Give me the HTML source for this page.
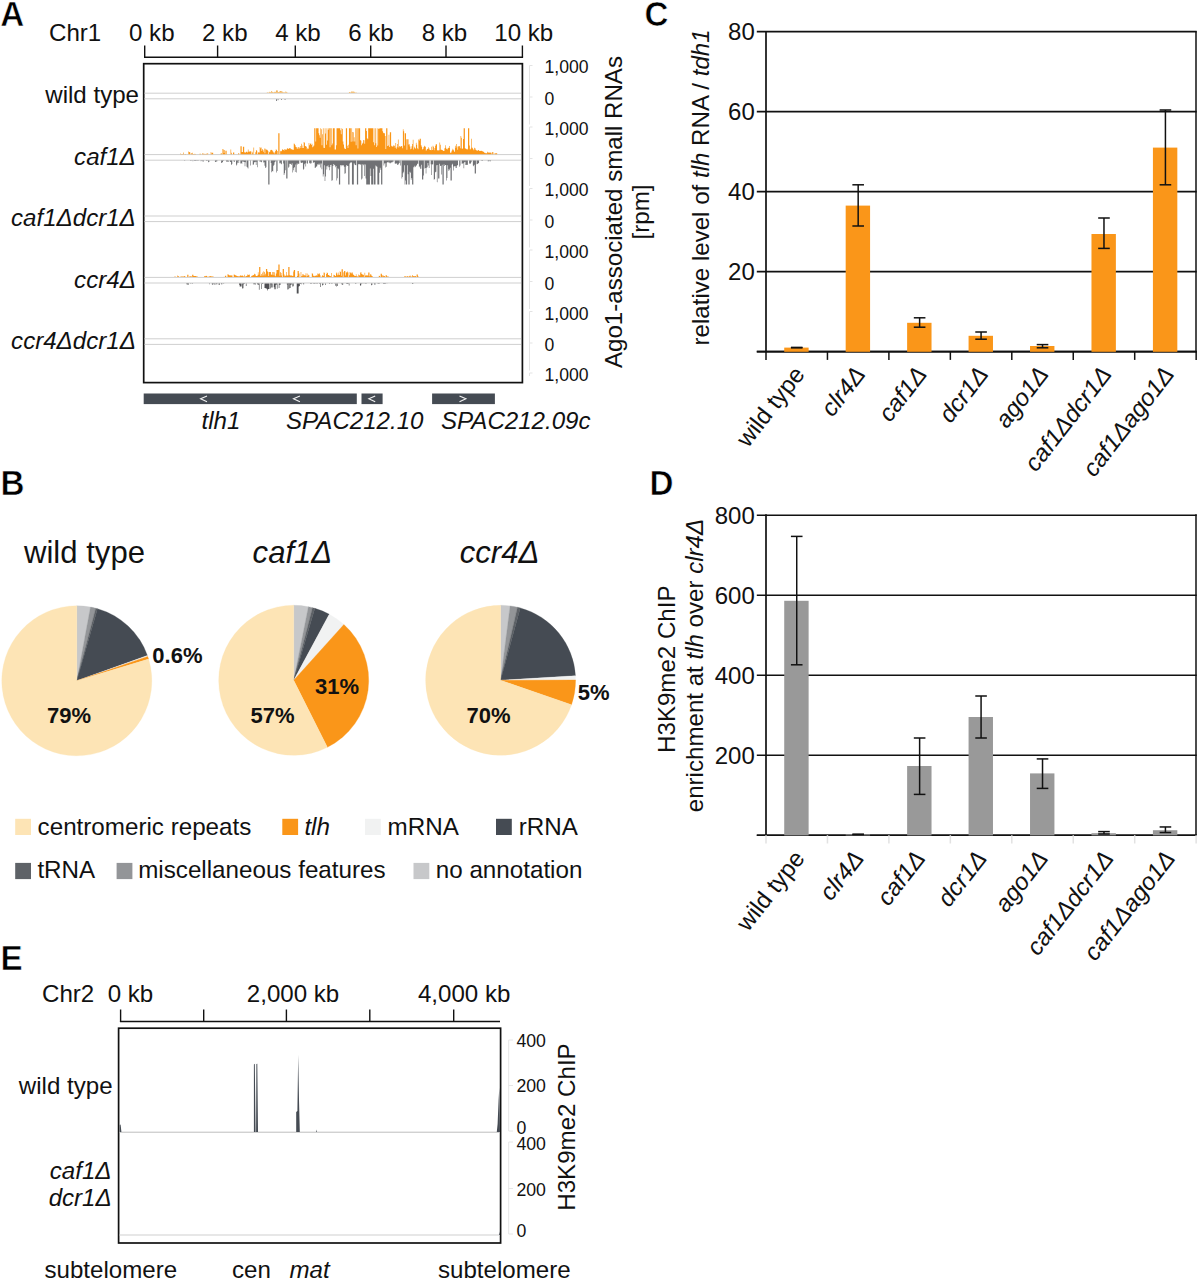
<!DOCTYPE html>
<html><head><meta charset="utf-8"><title>Figure</title>
<style>
html,body{margin:0;padding:0;background:#fff;}
body{width:1198px;height:1280px;overflow:hidden;}
svg{display:block;font-family:'Liberation Sans', sans-serif;}
</style></head><body>
<svg width="1198" height="1280" viewBox="0 0 1198 1280" font-family="Liberation Sans, sans-serif">
<rect width="1198" height="1280" fill="#ffffff"/>
<text transform="translate(0.2 25.8) scale(0.95 1)" font-size="35" font-weight="bold" fill="#000" stroke="#fff" stroke-width="0.6">A</text>
<text x="49" y="40.5" font-size="24.1" text-anchor="start" font-weight="normal" font-style="normal" fill="#111">Chr1</text>
<text x="129" y="40.5" font-size="24.1" text-anchor="start" font-weight="normal" font-style="normal" fill="#111">0 kb</text>
<text x="202" y="40.5" font-size="24.1" text-anchor="start" font-weight="normal" font-style="normal" fill="#111">2 kb</text>
<text x="275.2" y="40.5" font-size="24.1" text-anchor="start" font-weight="normal" font-style="normal" fill="#111">4 kb</text>
<text x="348.2" y="40.5" font-size="24.1" text-anchor="start" font-weight="normal" font-style="normal" fill="#111">6 kb</text>
<text x="421.7" y="40.5" font-size="24.1" text-anchor="start" font-weight="normal" font-style="normal" fill="#111">8 kb</text>
<text x="494.3" y="40.5" font-size="24.1" text-anchor="start" font-weight="normal" font-style="normal" fill="#111">10 kb</text>
<line x1="144.0" y1="57.3" x2="523.1" y2="57.3" stroke="#111" stroke-width="1.4"/>
<line x1="144.7" y1="45.5" x2="144.7" y2="57.3" stroke="#111" stroke-width="1.4"/>
<line x1="217.6" y1="45.5" x2="217.6" y2="57.3" stroke="#111" stroke-width="1.4"/>
<line x1="295.3" y1="45.5" x2="295.3" y2="57.3" stroke="#111" stroke-width="1.4"/>
<line x1="370.7" y1="45.5" x2="370.7" y2="57.3" stroke="#111" stroke-width="1.4"/>
<line x1="446.0" y1="45.5" x2="446.0" y2="57.3" stroke="#111" stroke-width="1.4"/>
<line x1="522.4" y1="45.5" x2="522.4" y2="57.3" stroke="#111" stroke-width="1.4"/>
<rect x="143.7" y="63.7" width="378.7" height="318.90000000000003" fill="none" stroke="#111" stroke-width="1.7"/>
<line x1="144.5" y1="93.2" x2="521" y2="93.2" stroke="#cfcfcf" stroke-width="1"/>
<line x1="144.5" y1="98.8" x2="521" y2="98.8" stroke="#cfcfcf" stroke-width="1"/>
<text x="139" y="102.8" font-size="24.1" text-anchor="end" font-weight="normal" font-style="normal" fill="#111">wild type</text>
<line x1="144.5" y1="154.6" x2="521" y2="154.6" stroke="#cfcfcf" stroke-width="1"/>
<line x1="144.5" y1="160.2" x2="521" y2="160.2" stroke="#cfcfcf" stroke-width="1"/>
<text x="135.8" y="164.7" font-size="24.1" text-anchor="end" font-weight="normal" font-style="italic" fill="#111">caf1Δ</text>
<line x1="144.5" y1="216.0" x2="521" y2="216.0" stroke="#cfcfcf" stroke-width="1"/>
<line x1="144.5" y1="221.6" x2="521" y2="221.6" stroke="#cfcfcf" stroke-width="1"/>
<text x="135.8" y="226.1" font-size="24.1" text-anchor="end" font-weight="normal" font-style="italic" fill="#111">caf1Δdcr1Δ</text>
<line x1="144.5" y1="277.4" x2="521" y2="277.4" stroke="#cfcfcf" stroke-width="1"/>
<line x1="144.5" y1="283.0" x2="521" y2="283.0" stroke="#cfcfcf" stroke-width="1"/>
<text x="135.8" y="287.5" font-size="24.1" text-anchor="end" font-weight="normal" font-style="italic" fill="#111">ccr4Δ</text>
<line x1="144.5" y1="338.8" x2="521" y2="338.8" stroke="#cfcfcf" stroke-width="1"/>
<line x1="144.5" y1="344.40000000000003" x2="521" y2="344.40000000000003" stroke="#cfcfcf" stroke-width="1"/>
<text x="135.8" y="348.90000000000003" font-size="24.1" text-anchor="end" font-weight="normal" font-style="italic" fill="#111">ccr4Δdcr1Δ</text>
<text x="544.5" y="72.9" font-size="17.6" text-anchor="start" font-weight="normal" font-style="normal" fill="#111">1,000</text>
<text x="544.5" y="134.60000000000002" font-size="17.6" text-anchor="start" font-weight="normal" font-style="normal" fill="#111">1,000</text>
<text x="544.5" y="196.3" font-size="17.6" text-anchor="start" font-weight="normal" font-style="normal" fill="#111">1,000</text>
<text x="544.5" y="258.0" font-size="17.6" text-anchor="start" font-weight="normal" font-style="normal" fill="#111">1,000</text>
<text x="544.5" y="319.70000000000005" font-size="17.6" text-anchor="start" font-weight="normal" font-style="normal" fill="#111">1,000</text>
<text x="544.5" y="381.4" font-size="17.6" text-anchor="start" font-weight="normal" font-style="normal" fill="#111">1,000</text>
<text x="544.5" y="104.8" font-size="17.6" text-anchor="start" font-weight="normal" font-style="normal" fill="#111">0</text>
<text x="544.5" y="166.4" font-size="17.6" text-anchor="start" font-weight="normal" font-style="normal" fill="#111">0</text>
<text x="544.5" y="228.0" font-size="17.6" text-anchor="start" font-weight="normal" font-style="normal" fill="#111">0</text>
<text x="544.5" y="289.6" font-size="17.6" text-anchor="start" font-weight="normal" font-style="normal" fill="#111">0</text>
<text x="544.5" y="351.2" font-size="17.6" text-anchor="start" font-weight="normal" font-style="normal" fill="#111">0</text>
<path d="M532.5 65.5H529.5V124.5" fill="none" stroke="#e3e3e3" stroke-width="1"/>
<path d="M529.5 97.0H532.5" fill="none" stroke="#e3e3e3" stroke-width="1"/>
<path d="M532.5 127.0H529.5V186.0" fill="none" stroke="#e3e3e3" stroke-width="1"/>
<path d="M529.5 158.5H532.5" fill="none" stroke="#e3e3e3" stroke-width="1"/>
<path d="M532.5 188.5H529.5V247.5" fill="none" stroke="#e3e3e3" stroke-width="1"/>
<path d="M529.5 220.0H532.5" fill="none" stroke="#e3e3e3" stroke-width="1"/>
<path d="M532.5 250.0H529.5V309.0" fill="none" stroke="#e3e3e3" stroke-width="1"/>
<path d="M529.5 281.5H532.5" fill="none" stroke="#e3e3e3" stroke-width="1"/>
<path d="M532.5 311.5H529.5V370.5" fill="none" stroke="#e3e3e3" stroke-width="1"/>
<path d="M529.5 343.0H532.5" fill="none" stroke="#e3e3e3" stroke-width="1"/>
<path d="M532.5 373.0H529.5V376.0" fill="none" stroke="#e3e3e3" stroke-width="1"/>
<text x="622" y="212" font-size="24.1" text-anchor="middle" font-weight="normal" font-style="normal" fill="#111" transform="rotate(-90 622 212)">Ago1-associated small RNAs</text>
<text x="649" y="212" font-size="24.1" text-anchor="middle" font-weight="normal" font-style="normal" fill="#111" transform="rotate(-90 649 212)">[rpm]</text>
<defs><filter id="sb" x="-2%" y="-10%" width="104%" height="120%"><feGaussianBlur stdDeviation="0.3"/></filter></defs>
<path d="M179.69 154.20V154.20H180.31V153.56H180.93V154.02H181.55V154.02H182.17V154.03H182.79V154.01H183.41V152.53H184.03V154.20H184.65V153.91H185.27V153.95H185.89V154.20H186.51V154.20H187.13V154.20H187.75V154.20H188.37V151.60H188.99V151.96H189.61V152.22H190.23V154.20H190.85V153.25H191.47V153.41H192.09V152.85H192.71V154.02H193.33V153.97H193.95V154.04H194.57V153.63H195.19V153.98H195.81V154.20H196.43V154.20H197.05V154.20H197.67V154.20H198.29V154.20H198.91V154.20H199.53V153.77H200.15V153.82H200.77V154.20H201.39V154.20H202.01V153.48H202.63V153.55H203.25V153.71H203.87V153.86H204.49V153.96H205.11V154.01H205.73V153.84H206.35V153.78H206.97V153.51H207.59V153.56H208.21V154.20H208.83V154.20H209.45V154.20H210.07V154.20H210.69V152.09H211.31V153.38H211.93V152.63H212.55V152.74H213.17V154.20H213.79V154.20H214.41V154.20H215.03V154.20H215.65V154.20H216.27V154.20H216.89V154.20H217.51V154.20H218.13V154.20H218.75V154.20H219.37V154.20H219.99V154.20H220.61V153.43H221.23V153.36H221.85V154.20H222.47V148.95H223.09V149.57H223.71V153.04H224.33V149.92H224.95V150.72H225.57V154.20H226.19V150.81H226.81V154.20H227.43V154.20H228.05V154.20H228.67V154.20H229.29V154.20H229.91V154.20H230.53V149.39H231.15V152.69H231.77V154.20H232.39V154.20H233.01V152.53H233.63V152.38H234.25V154.20H234.87V154.20H235.49V154.20H236.11V154.20H236.73V154.20H237.35V154.20H237.97V153.54H238.59V153.23H239.21V154.20H239.83V154.20H240.45V146.20H241.07V146.20H241.69V152.03H242.31V151.88H242.93V146.70H243.55V146.70H244.17V152.13H244.79V152.61H245.41V152.54H246.03V151.78H246.65V151.64H247.27V152.49H247.89V149.47H248.51V151.71H249.13V151.68H249.75V151.09H250.37V151.49H250.99V154.20H251.61V151.56H252.23V152.54H252.85V154.20H253.47V147.45H254.09V154.20H254.71V154.20H255.33V152.37H255.95V149.91H256.57V150.64H257.19V154.20H257.81V152.50H258.43V152.32H259.05V152.62H259.67V147.01H260.29V148.35H260.91V147.52H261.53V151.05H262.15V148.92H262.77V149.95H263.39V151.87H264.01V148.62H264.63V153.20H265.25V148.86H265.87V149.97H266.49V149.24H267.11V149.96H267.73V151.08H268.35V154.20H268.97V152.19H269.59V151.65H270.21V150.21H270.83V149.68H271.45V149.97H272.07V150.61H272.69V151.47H273.31V152.58H273.93V153.57H274.55V152.19H275.17V150.98H275.79V149.25H276.41V149.88H277.03V150.91H277.65V154.20H278.27V133.20H278.89V133.20H279.51V154.20H280.13V151.20H280.75V150.74H281.37V151.22H281.99V149.30H282.61V149.85H283.23V149.93H283.85V150.50H284.47V148.95H285.09V149.56H285.71V149.63H286.33V149.51H286.95V148.17H287.57V148.53H288.19V148.96H288.81V148.58H289.43V148.02H290.05V148.29H290.67V149.18H291.29V149.29H291.91V149.21H292.53V149.97H293.15V149.70H293.77V143.57H294.39V144.19H295.01V145.28H295.63V147.08H296.25V147.31H296.87V148.89H297.49V147.54H298.11V147.07H298.73V148.73H299.35V147.53H299.97V145.92H300.59V147.91H301.21V143.83H301.83V145.61H302.45V148.04H303.07V147.89H303.69V141.95H304.31V142.79H304.93V146.11H305.55V146.23H306.17V146.81H306.79V149.15H307.41V148.19H308.03V148.66H308.65V143.12H309.27V145.29H309.89V143.70H310.51V143.56H311.13V145.03H311.75V143.72H312.37V147.14H312.99V146.46H313.61V145.57H314.23V128.20H314.85V128.20H315.47V141.38H316.09V128.20H316.71V128.20H317.33V128.20H317.95V128.20H318.57V133.21H319.19V135.25H319.81V137.74H320.43V128.20H321.05V129.22H321.67V145.29H322.29V134.20H322.91V128.20H323.53V147.82H324.15V148.00H324.77V128.20H325.39V133.40H326.01V144.81H326.63V128.20H327.25V140.59H327.87V129.82H328.49V128.20H329.11V128.20H329.73V147.33H330.35V128.20H330.97V128.20H331.59V145.21H332.21V143.57H332.83V128.20H333.45V128.20H334.07V128.20H334.69V149.45H335.31V149.41H335.93V145.14H336.55V128.20H337.17V128.20H337.79V128.20H338.41V128.20H339.03V128.20H339.65V128.20H340.27V130.15H340.89V134.37H341.51V128.20H342.13V128.92H342.75V141.56H343.37V144.58H343.99V147.76H344.61V148.94H345.23V148.94H345.85V128.20H346.47V128.20H347.09V145.69H347.71V148.03H348.33V144.69H348.95V128.20H349.57V128.20H350.19V128.20H350.81V141.71H351.43V128.20H352.05V131.93H352.67V141.49H353.29V132.31H353.91V137.23H354.53V141.41H355.15V128.20H355.77V145.15H356.39V128.20H357.01V128.20H357.63V148.46H358.25V128.20H358.87V128.20H359.49V128.20H360.11V139.97H360.73V140.84H361.35V145.28H361.97V143.73H362.59V142.73H363.21V140.11H363.83V140.13H364.45V143.76H365.07V128.20H365.69V128.31H366.31V130.99H366.93V138.23H367.55V139.37H368.17V128.20H368.79V128.20H369.41V128.20H370.03V128.20H370.65V128.20H371.27V128.20H371.89V128.20H372.51V128.20H373.13V142.36H373.75V128.20H374.37V145.25H374.99V128.20H375.61V143.16H376.23V146.98H376.85V128.20H377.47V145.43H378.09V128.62H378.71V129.05H379.33V128.20H379.95V128.20H380.57V128.20H381.19V128.20H381.81V128.20H382.43V131.22H383.05V132.71H383.67V133.29H384.29V133.34H384.91V136.03H385.53V149.02H386.15V128.20H386.77V128.20H387.39V145.91H388.01V145.58H388.63V134.84H389.25V146.97H389.87V132.20H390.49V132.20H391.11V145.81H391.73V146.56H392.35V146.48H392.97V146.16H393.59V144.93H394.21V145.88H394.83V147.71H395.45V143.12H396.07V148.83H396.69V147.23H397.31V143.93H397.93V139.50H398.55V147.58H399.17V146.04H399.79V146.65H400.41V146.41H401.03V145.98H401.65V146.37H402.27V148.36H402.89V129.36H403.51V131.19H404.13V145.48H404.75V133.20H405.37V133.20H405.99V139.22H406.61V149.85H407.23V139.20H407.85V139.20H408.47V144.47H409.09V144.29H409.71V146.38H410.33V149.36H410.95V148.77H411.57V146.21H412.19V144.03H412.81V139.72H413.43V149.59H414.05V146.72H414.67V147.94H415.29V148.84H415.91V142.82H416.53V144.75H417.15V148.29H417.77V149.26H418.39V139.48H419.01V140.38H419.63V138.71H420.25V138.85H420.87V145.15H421.49V146.72H422.11V149.57H422.73V149.06H423.35V147.17H423.97V145.63H424.59V146.39H425.21V146.75H425.83V150.83H426.45V149.63H427.07V148.96H427.69V148.63H428.31V147.31H428.93V148.44H429.55V150.09H430.17V150.04H430.79V150.36H431.41V146.70H432.03V150.02H432.65V145.82H433.27V146.68H433.89V150.21H434.51V148.10H435.13V145.66H435.75V144.20H436.37V144.20H436.99V150.40H437.61V150.02H438.23V150.45H438.85V150.13H439.47V142.43H440.09V144.69H440.71V149.69H441.33V149.74H441.95V150.06H442.57V150.38H443.19V150.99H443.81V151.00H444.43V148.32H445.05V145.17H445.67V147.71H446.29V148.93H446.91V149.56H447.53V148.40H448.15V147.86H448.77V148.11H449.39V145.99H450.01V152.60H450.63V153.06H451.25V151.61H451.87V150.37H452.49V148.65H453.11V149.81H453.73V150.78H454.35V151.91H454.97V145.72H455.59V147.76H456.21V144.11H456.83V146.54H457.45V149.73H458.07V146.23H458.69V146.53H459.31V145.95H459.93V148.20H460.55V136.05H461.17V137.73H461.79V148.84H462.41V148.44H463.03V138.98H463.65V128.20H464.27V128.20H464.89V148.07H465.51V148.92H466.13V149.30H466.75V148.64H467.37V149.51H467.99V128.20H468.61V128.20H469.23V145.61H469.85V149.49H470.47V148.86H471.09V138.83H471.71V147.62H472.33V148.36H472.95V149.36H473.57V150.20H474.19V147.87H474.81V148.15H475.43V149.65H476.05V150.28H476.67V150.52H477.29V150.73H477.91V150.00H478.53V150.29H479.15V150.93H479.77V150.87H480.39V150.90H481.01V150.63H481.63V150.94H482.25V151.21H482.87V151.68H483.49V151.84H484.11V152.71H484.73V152.85H485.35V153.16H485.97V153.26H486.59V153.28H487.21V151.80H487.83V152.14H488.45V152.81H489.07V152.61H489.69V152.63H490.31V152.61H490.93V152.87H491.55V154.20H492.17V151.95H492.79V152.28H493.41V154.20H494.03V154.20H494.65V153.08H495.27V153.41H495.89V153.55H496.51V153.03H497.13V154.20Z" fill="#fa9619" filter="url(#sb)"/>
<path d="M182.69 160.60V160.60H183.31V160.60H183.93V160.78H184.55V160.80H185.17V160.60H185.79V160.60H186.41V160.60H187.03V160.60H187.65V160.60H188.27V160.60H188.89V160.60H189.51V160.60H190.13V160.80H190.75V160.88H191.37V160.60H191.99V160.60H192.61V161.26H193.23V160.60H193.85V160.86H194.47V160.90H195.09V160.93H195.71V160.86H196.33V160.83H196.95V160.75H197.57V160.84H198.19V160.80H198.81V160.60H199.43V160.60H200.05V160.60H200.67V161.30H201.29V160.76H201.91V160.82H202.53V161.49H203.15V161.48H203.77V160.60H204.39V160.60H205.01V160.60H205.63V160.60H206.25V160.93H206.87V160.93H207.49V160.60H208.11V162.19H208.73V162.12H209.35V160.60H209.97V160.60H210.59V160.60H211.21V160.60H211.83V160.60H212.45V160.60H213.07V160.60H213.69V160.60H214.31V160.60H214.93V161.98H215.55V161.73H216.17V161.56H216.79V161.21H217.41V160.60H218.03V160.60H218.65V160.60H219.27V160.60H219.89V160.60H220.51V160.60H221.13V163.04H221.75V162.76H222.37V162.07H222.99V161.12H223.61V160.60H224.23V160.60H224.85V160.60H225.47V160.60H226.09V161.61H226.71V161.87H227.33V161.43H227.95V162.01H228.57V160.60H229.19V160.60H229.81V161.75H230.43V161.99H231.05V165.01H231.67V164.12H232.29V160.60H232.91V160.60H233.53V161.42H234.15V161.94H234.77V160.60H235.39V160.60H236.01V165.48H236.63V164.46H237.25V162.87H237.87V161.09H238.49V163.07H239.11V160.60H239.73V160.60H240.35V163.52H240.97V162.93H241.59V164.04H242.21V161.46H242.83V161.18H243.45V162.00H244.07V162.10H244.69V166.19H245.31V162.26H245.93V160.60H246.55V166.76H247.17V167.60H247.79V168.39H248.41V160.60H249.03V160.60H249.65V160.60H250.27V165.49H250.89V160.60H251.51V160.60H252.13V160.60H252.75V164.76H253.37V164.50H253.99V162.21H254.61V162.18H255.23V161.84H255.85V164.95H256.47V161.87H257.09V167.30H257.71V160.60H258.33V160.60H258.95V160.60H259.57V161.63H260.19V161.60H260.81V161.71H261.43V162.17H262.05V160.60H262.67V160.60H263.29V162.53H263.91V162.28H264.53V165.65H265.15V167.93H265.77V167.25H266.39V160.60H267.01V160.60H267.63V160.60H268.25V184.60H268.87V184.60H269.49V160.60H270.11V160.60H270.73V162.88H271.35V172.33H271.97V171.03H272.59V171.60H273.21V165.73H273.83V164.87H274.45V162.19H275.07V161.45H275.69V160.60H276.31V172.60H276.93V171.04H277.55V160.60H278.17V160.60H278.79V160.60H279.41V163.14H280.03V162.64H280.65V163.85H281.27V164.16H281.89V160.60H282.51V160.60H283.13V163.51H283.75V175.11H284.37V173.30H284.99V170.23H285.61V160.60H286.23V178.60H286.85V178.60H287.47V160.60H288.09V167.64H288.71V166.69H289.33V163.76H289.95V163.77H290.57V163.98H291.19V164.98H291.81V163.31H292.43V172.62H293.05V170.30H293.67V167.88H294.29V167.03H294.91V171.97H295.53V164.46H296.15V172.46H296.77V163.23H297.39V164.45H298.01V163.73H298.63V163.74H299.25V160.60H299.87V160.60H300.49V162.46H301.11V162.97H301.73V162.87H302.35V162.50H302.97V169.72H303.59V168.81H304.21V164.37H304.83V163.13H305.45V166.51H306.07V160.60H306.69V163.16H307.31V163.86H307.93V160.60H308.55V160.60H309.17V163.34H309.79V162.70H310.41V163.67H311.03V163.19H311.65V160.60H312.27V160.60H312.89V162.94H313.51V162.26H314.13V162.18H314.75V168.04H315.37V167.44H315.99V166.79H316.61V166.17H317.23V164.13H317.85V164.90H318.47V163.79H319.09V164.74H319.71V163.44H320.33V167.39H320.95V163.50H321.57V169.37H322.19V160.60H322.81V176.51H323.43V174.31H324.05V165.14H324.67V180.99H325.29V176.62H325.91V166.24H326.53V169.57H327.15V166.27H327.77V165.25H328.39V167.13H329.01V170.37H329.63V167.11H330.25V164.91H330.87V164.73H331.49V180.74H332.11V180.36H332.73V165.97H333.35V163.93H333.97V164.74H334.59V165.15H335.21V167.26H335.83V166.05H336.45V180.56H337.07V178.30H337.69V168.21H338.31V169.23H338.93V184.60H339.55V184.60H340.17V165.12H340.79V166.16H341.41V164.88H342.03V165.16H342.65V165.52H343.27V165.32H343.89V166.72H344.51V173.78H345.13V173.21H345.75V166.38H346.37V164.92H346.99V165.86H347.61V165.96H348.23V184.60H348.85V184.60H349.47V163.42H350.09V162.55H350.71V162.73H351.33V162.36H351.95V184.60H352.57V184.60H353.19V184.60H353.81V163.28H354.43V164.60H355.05V164.90H355.67V165.13H356.29V160.60H356.91V184.60H357.53V184.60H358.15V164.34H358.77V164.21H359.39V164.26H360.01V164.81H360.63V164.32H361.25V179.38H361.87V178.44H362.49V164.14H363.11V165.15H363.73V164.13H364.35V176.03H364.97V164.43H365.59V178.46H366.21V184.60H366.83V184.60H367.45V184.60H368.07V184.60H368.69V184.60H369.31V184.60H369.93V168.43H370.55V175.96H371.17V184.60H371.79V184.60H372.41V184.60H373.03V168.82H373.65V184.60H374.27V184.60H374.89V184.60H375.51V165.62H376.13V166.29H376.75V166.73H377.37V184.60H377.99V184.60H378.61V184.60H379.23V172.65H379.85V167.68H380.47V169.74H381.09V184.60H381.71V184.60H382.33V160.60H382.95V160.60H383.57V165.49H384.19V163.45H384.81V163.20H385.43V167.59H386.05V166.75H386.67V162.76H387.29V162.09H387.91V162.68H388.53V161.74H389.15V162.81H389.77V163.39H390.39V162.81H391.01V162.29H391.63V162.72H392.25V161.75H392.87V161.72H393.49V160.60H394.11V160.60H394.73V163.49H395.35V163.83H395.97V163.59H396.59V163.39H397.21V164.90H397.83V164.78H398.45V163.85H399.07V162.93H399.69V160.60H400.31V165.46H400.93V160.60H401.55V178.45H402.17V177.00H402.79V173.31H403.41V171.82H404.03V165.17H404.65V184.60H405.27V180.60H405.89V184.60H406.51V184.60H407.13V165.13H407.75V174.25H408.37V184.60H408.99V184.60H409.61V171.77H410.23V172.85H410.85V179.67H411.47V177.99H412.09V184.60H412.71V184.60H413.33V167.34H413.95V165.66H414.57V167.36H415.19V166.77H415.81V165.80H416.43V165.27H417.05V163.87H417.67V163.76H418.29V160.60H418.91V167.37H419.53V166.29H420.15V168.87H420.77V168.75H421.39V164.75H422.01V179.60H422.63V179.60H423.25V175.47H423.87V160.60H424.49V168.43H425.11V167.97H425.73V173.45H426.35V167.71H426.97V167.30H427.59V163.07H428.21V165.62H428.83V167.88H429.45V160.60H430.07V160.60H430.69V164.37H431.31V175.01H431.93V164.50H432.55V164.24H433.17V160.60H433.79V179.82H434.41V178.88H435.03V172.34H435.65V171.87H436.27V165.19H436.89V182.17H437.51V164.98H438.13V178.60H438.75V178.60H439.37V163.75H439.99V165.65H440.61V165.89H441.23V174.39H441.85V164.78H442.47V184.60H443.09V184.60H443.71V164.21H444.33V166.06H444.95V165.05H445.57V164.98H446.19V180.59H446.81V178.05H447.43V165.17H448.05V170.67H448.67V168.91H449.29V170.23H449.91V167.87H450.53V180.60H451.15V180.60H451.77V164.78H452.39V163.73H453.01V170.43H453.63V166.42H454.25V166.25H454.87V166.01H455.49V167.87H456.11V167.97H456.73V165.64H457.35V165.04H457.97V160.60H458.59V160.60H459.21V166.83H459.83V165.48H460.45V160.60H461.07V160.60H461.69V163.82H462.31V163.42H462.93V163.23H463.55V168.20H464.17V162.36H464.79V161.83H465.41V164.89H466.03V164.84H466.65V164.96H467.27V164.69H467.89V160.60H468.51V160.60H469.13V163.77H469.75V163.17H470.37V163.69H470.99V162.26H471.61V160.60H472.23V160.60H472.85V165.51H473.47V166.36H474.09V164.65H474.71V173.60H475.33V173.60H475.95V160.60H476.57V164.23H477.19V163.94H477.81V163.48H478.43V163.10H479.05V160.60H479.67V160.60H480.29V160.60H480.91V160.60H481.53V160.97H482.15V161.00H482.77V160.60H483.39V160.60H484.01V160.60H484.63V160.60H485.25V160.60H485.87V160.60H486.49V160.60H487.11V160.60H487.73V161.37H488.35V161.32H488.97V160.73H489.59V161.34H490.21V161.30H490.83V160.60Z" fill="#707174" filter="url(#sb)"/>
<path d="M174.19 277.00V276.74H174.81V276.30H175.43V277.00H176.05V277.00H176.67V277.00H177.29V275.61H177.91V275.89H178.53V276.40H179.15V277.00H179.77V277.00H180.39V276.50H181.01V276.48H181.63V276.44H182.25V276.59H182.87V276.38H183.49V276.51H184.11V275.95H184.73V276.21H185.35V277.00H185.97V277.00H186.59V277.00H187.21V274.80H187.83V274.80H188.45V277.00H189.07V276.40H189.69V276.42H190.31V276.31H190.93V276.01H191.55V277.00H192.17V274.80H192.79V274.80H193.41V275.93H194.03V276.10H194.65V275.95H195.27V275.96H195.89V276.14H196.51V276.52H197.13V276.54H197.75V277.00H198.37V277.00H198.99V277.00H199.61V277.00H200.23V277.00H200.85V277.00H201.47V277.00H202.09V277.00H202.71V277.00H203.33V277.00H203.95V276.58H204.57V276.05H205.19V276.14H205.81V275.78H206.43V275.95H207.05V276.63H207.67V276.69H208.29V276.63H208.91V276.37H209.53V276.43H210.15V276.12H210.77V276.36H211.39V276.38H212.01V276.50H212.63V276.55H213.25V276.83H213.87V277.00H214.49V277.00H215.11V277.00H215.73V277.00H216.35V277.00H216.97V277.00H217.59V277.00H218.21V277.00H218.83V277.00H219.45V277.00H220.07V277.00H220.69V277.00H221.31V277.00H221.93V277.00H222.55V277.00H223.17V277.00H223.79V276.87H224.41V276.89H225.03V275.63H225.65V275.79H226.27V277.00H226.89V277.00H227.51V274.35H228.13V274.46H228.75V275.04H229.37V275.40H229.99V275.53H230.61V275.28H231.23V275.52H231.85V275.44H232.47V277.00H233.09V277.00H233.71V274.50H234.33V274.70H234.95V275.17H235.57V275.28H236.19V275.84H236.81V276.03H237.43V276.22H238.05V276.19H238.67V276.38H239.29V276.36H239.91V275.57H240.53V275.58H241.15V275.71H241.77V275.87H242.39V275.51H243.01V275.90H243.63V277.00H244.25V274.65H244.87V276.38H245.49V276.52H246.11V276.06H246.73V275.86H247.35V274.45H247.97V274.75H248.59V275.00H249.21V274.43H249.83V277.00H250.45V277.00H251.07V276.35H251.69V275.78H252.31V275.44H252.93V275.10H253.55V275.25H254.17V273.63H254.79V274.00H255.41V275.52H256.03V276.11H256.65V276.09H257.27V275.43H257.89V272.28H258.51V274.67H259.13V267.00H259.75V267.00H260.37V275.73H260.99V274.01H261.61V275.71H262.23V272.44H262.85V275.50H263.47V271.18H264.09V271.90H264.71V275.49H265.33V273.75H265.95V269.00H266.57V269.00H267.19V271.18H267.81V271.97H268.43V275.91H269.05V272.00H269.67V272.00H270.29V272.00H270.91V274.71H271.53V274.52H272.15V272.00H272.77V275.13H273.39V271.96H274.01V272.21H274.63V275.60H275.25V276.23H275.87V273.38H276.49V270.00H277.11V270.00H277.73V270.00H278.35V264.40H278.97V264.40H279.59V275.75H280.21V271.93H280.83V272.98H281.45V275.38H282.07V277.00H282.69V269.00H283.31V269.00H283.93V274.46H284.55V276.22H285.17V275.80H285.79V275.61H286.41V271.97H287.03V275.42H287.65V275.59H288.27V267.00H288.89V267.00H289.51V275.35H290.13V275.45H290.75V275.38H291.37V275.58H291.99V275.84H292.61V275.95H293.23V271.39H293.85V270.00H294.47V270.00H295.09V277.00H295.71V277.00H296.33V277.00H296.95V275.89H297.57V271.00H298.19V271.00H298.81V273.39H299.43V277.00H300.05V277.00H300.67V271.94H301.29V276.20H301.91V275.84H302.53V273.96H303.15V274.49H303.77V275.73H304.39V275.00H305.01V275.47H305.63V273.23H306.25V276.40H306.87V273.52H307.49V275.99H308.11V274.83H308.73V275.18H309.35V277.00H309.97V277.00H310.59V277.00H311.21V277.00H311.83V273.33H312.45V273.70H313.07V275.85H313.69V275.78H314.31V276.21H314.93V275.77H315.55V275.68H316.17V275.33H316.79V275.63H317.41V273.57H318.03V274.28H318.65V273.49H319.27V273.56H319.89V275.19H320.51V277.00H321.13V277.00H321.75V275.93H322.37V274.97H322.99V275.96H323.61V272.47H324.23V272.72H324.85V277.00H325.47V277.00H326.09V273.89H326.71V272.59H327.33V272.95H327.95V275.02H328.57V275.12H329.19V275.84H329.81V275.90H330.43V276.35H331.05V272.93H331.67V277.00H332.29V277.00H332.91V277.00H333.53V274.78H334.15V275.10H334.77V275.75H335.39V275.90H336.01V272.44H336.63V273.46H337.25V275.25H337.87V272.40H338.49V274.63H339.11V275.04H339.73V271.36H340.35V271.93H340.97V275.82H341.59V269.20H342.21V269.20H342.83V277.00H343.45V272.19H344.07V271.00H344.69V271.00H345.31V275.53H345.93V272.17H346.55V272.53H347.17V271.45H347.79V272.60H348.41V277.00H349.03V275.15H349.65V271.88H350.27V272.64H350.89V273.48H351.51V272.50H352.13V272.50H352.75V274.33H353.37V274.97H353.99V275.55H354.61V276.04H355.23V276.02H355.85V274.14H356.47V276.26H357.09V276.29H357.71V277.00H358.33V274.44H358.95V275.04H359.57V275.71H360.19V272.60H360.81V272.37H361.43V274.11H362.05V274.61H362.67V274.56H363.29V274.90H363.91V277.00H364.53V272.70H365.15V275.50H365.77V275.49H366.39V275.28H367.01V275.36H367.63V275.75H368.25V272.60H368.87V272.60H369.49V276.19H370.11V274.34H370.73V274.53H371.35V275.86H371.97V275.90H372.59V277.00H373.21V277.00H373.83V277.00H374.45V277.00H375.07V277.00H375.69V277.00H376.31V277.00H376.93V277.00H377.55V277.00H378.17V277.00H378.79V275.74H379.41V276.04H380.03V277.00H380.65V273.80H381.27V273.80H381.89V274.92H382.51V276.51H383.13V275.56H383.75V276.16H384.37V276.04H384.99V277.00H385.61V275.13H386.23V275.34H386.85V276.59H387.47V276.59H388.09V276.54H388.71V277.00H389.33V277.00H389.95V277.00H390.57V277.00H391.19V277.00H391.81V277.00H392.43V277.00H393.05V277.00H393.67V277.00H394.29V277.00H394.91V277.00H395.53V277.00H396.15V277.00H396.77V277.00H397.39V277.00H398.01V277.00H398.63V277.00H399.25V277.00H399.87V277.00H400.49V277.00H401.11V277.00H401.73V277.00H402.35V277.00H402.97V277.00H403.59V277.00H404.21V276.28H404.83V276.57H405.45V276.25H406.07V277.00H406.69V276.09H407.31V276.18H407.93V277.00H408.55V276.15H409.17V276.29H409.79V275.58H410.41V276.53H411.03V276.64H411.65V276.61H412.27V275.02H412.89V276.23H413.51V276.02H414.13V276.15H414.75V276.27H415.37V276.02H415.99V277.00H416.61V274.40H417.23V274.40H417.85V276.30H418.47V277.00H419.09V277.00Z" fill="#fa9619" filter="url(#sb)"/>
<path d="M177.69 283.40V283.40H178.31V283.40H178.93V283.60H179.55V283.54H180.17V283.40H180.79V283.40H181.41V283.57H182.03V283.55H182.65V283.40H183.27V283.40H183.89V283.40H184.51V283.40H185.13V283.40H185.75V283.40H186.37V284.21H186.99V284.15H187.61V284.69H188.23V284.45H188.85V283.40H189.47V283.40H190.09V283.86H190.71V283.78H191.33V283.40H191.95V283.91H192.57V283.53H193.19V283.45H193.81V283.40H194.43V283.40H195.05V283.40H195.67V283.40H196.29V283.40H196.91V283.40H197.53V283.40H198.15V283.40H198.77V283.40H199.39V283.40H200.01V283.40H200.63V283.40H201.25V283.40H201.87V283.40H202.49V283.40H203.11V283.40H203.73V283.40H204.35V283.40H204.97V283.40H205.59V283.40H206.21V283.40H206.83V283.40H207.45V283.40H208.07V283.40H208.69V283.40H209.31V284.36H209.93V283.40H210.55V283.40H211.17V283.40H211.79V284.23H212.41V284.73H213.03V284.13H213.65V283.40H214.27V284.42H214.89V284.38H215.51V283.40H216.13V284.30H216.75V284.27H217.37V283.40H217.99V283.40H218.61V284.78H219.23V284.66H219.85V283.40H220.47V283.40H221.09V284.16H221.71V284.27H222.33V283.40H222.95V283.82H223.57V283.79H224.19V283.40H224.81V283.40H225.43V283.40H226.05V283.40H226.67V283.40H227.29V283.40H227.91V283.40H228.53V283.40H229.15V283.40H229.77V283.40H230.39V283.40H231.01V283.40H231.63V283.40H232.25V283.40H232.87V283.40H233.49V283.40H234.11V283.40H234.73V283.40H235.35V283.40H235.97V283.40H236.59V283.40H237.21V283.40H237.83V283.40H238.45V283.40H239.07V284.72H239.69V286.40H240.31V286.40H240.93V286.40H241.55V283.40H242.17V288.45H242.79V288.24H243.41V284.30H244.03V283.89H244.65V283.40H245.27V283.40H245.89V285.93H246.51V283.40H247.13V283.40H247.75V283.40H248.37V283.40H248.99V283.40H249.61V283.40H250.23V283.40H250.85V283.40H251.47V283.40H252.09V283.40H252.71V283.40H253.33V284.24H253.95V284.36H254.57V284.17H255.19V284.58H255.81V283.40H256.43V283.40H257.05V284.35H257.67V284.57H258.29V284.77H258.91V289.72H259.53V283.40H260.15V283.40H260.77V283.40H261.39V289.12H262.01V283.92H262.63V283.95H263.25V283.40H263.87V283.40H264.49V287.90H265.11V287.90H265.73V288.73H266.35V288.48H266.97V290.45H267.59V289.32H268.21V288.90H268.83V288.90H269.45V283.40H270.07V288.49H270.69V284.19H271.31V287.60H271.93V287.60H272.55V283.40H273.17V283.40H273.79V287.27H274.41V289.28H275.03V289.16H275.65V284.65H276.27V284.50H276.89V288.79H277.51V283.40H278.13V283.40H278.75V288.05H279.37V284.68H279.99V284.72H280.61V283.40H281.23V283.40H281.85V283.40H282.47V283.40H283.09V283.40H283.71V283.40H284.33V283.40H284.95V283.40H285.57V283.40H286.19V283.40H286.81V284.39H287.43V289.53H288.05V289.13H288.67V284.01H289.29V288.17H289.91V288.03H290.53V284.73H291.15V284.41H291.77V283.40H292.39V286.42H293.01V286.25H293.63V283.40H294.25V283.40H294.87V283.40H295.49V283.40H296.11V283.40H296.73V293.40H297.35V293.40H297.97V293.40H298.59V286.45H299.21V285.93H299.83V283.91H300.45V284.12H301.07V284.25H301.69V283.40H302.31V283.40H302.93V284.22H303.55V284.18H304.17V283.40H304.79V283.40H305.41V283.40H306.03V283.40H306.65V283.40H307.27V283.40H307.89V283.40H308.51V283.40H309.13V283.40H309.75V283.40H310.37V284.00H310.99V284.03H311.61V283.40H312.23V283.40H312.85V283.64H313.47V283.72H314.09V283.85H314.71V283.99H315.33V283.40H315.95V283.40H316.57V284.00H317.19V283.86H317.81V283.40H318.43V283.40H319.05V283.85H319.67V283.88H320.29V286.90H320.91V283.40H321.53V283.40H322.15V285.52H322.77V285.03H323.39V283.40H324.01V283.40H324.63V283.40H325.25V285.06H325.87V283.40H326.49V283.40H327.11V283.40H327.73V283.40H328.35V283.40H328.97V283.94H329.59V283.78H330.21V283.40H330.83V283.40H331.45V283.95H332.07V283.85H332.69V283.40H333.31V283.40H333.93V283.74H334.55V283.57H335.17V285.66H335.79V283.40H336.41V286.45H337.03V286.08H337.65V283.40H338.27V283.40H338.89V283.40H339.51V283.40H340.13V283.40H340.75V283.40H341.37V284.20H341.99V284.71H342.61V284.42H343.23V283.40H343.85V283.40H344.47V283.40H345.09V283.40H345.71V283.40H346.33V283.99H346.95V284.06H347.57V283.88H348.19V283.76H348.81V285.48H349.43V283.40H350.05V283.40H350.67V283.40H351.29V283.40H351.91V283.40H352.53V283.40H353.15V283.40H353.77V283.40H354.39V283.40H355.01V283.86H355.63V283.95H356.25V283.40H356.87V283.40H357.49V283.40H358.11V283.40H358.73V283.40H359.35V283.40H359.97V285.68H360.59V285.26H361.21V283.87H361.83V283.87H362.45V283.40H363.07V283.40H363.69V283.66H364.31V283.62H364.93V283.72H365.55V283.67H366.17V283.64H366.79V283.60H367.41V283.40H368.03V283.40H368.65V283.40H369.27V283.40H369.89V283.40H370.51V283.40H371.13V285.14H371.75V284.86H372.37V283.40H372.99V283.40H373.61V283.40H374.23V284.62H374.85V284.50H375.47V283.40H376.09V283.59H376.71V283.52H377.33V283.66H377.95V283.84H378.57V283.99H379.19V283.83H379.81V283.40H380.43V283.40H381.05V283.40H381.67V283.40H382.29V283.58H382.91V283.76H383.53V283.90H384.15V283.93H384.77V283.40H385.39V284.02H386.01V283.40H386.63V283.81H387.25V283.48H387.87V283.40H388.49V283.40H389.11V283.40H389.73V283.40H390.35V283.40H390.97V283.40H391.59V283.40H392.21V283.40H392.83V283.40H393.45V283.40H394.07V283.40H394.69V283.40H395.31V283.40H395.93V283.40H396.55V283.40H397.17V283.40H397.79V283.40H398.41V283.40H399.03V283.40H399.65V283.40H400.27V283.40H400.89V283.40H401.51V283.40H402.13V283.40H402.75V283.40H403.37V283.40H403.99V283.40H404.61V283.40H405.23V283.40H405.85V283.40H406.47V283.40H407.09V283.40H407.71V283.40H408.33V283.40H408.95V283.40H409.57V283.40H410.19V283.40H410.81V283.40H411.43V283.40H412.05V284.07H412.67V284.06H413.29V283.40H413.91V283.40H414.53V283.40H415.15V283.40H415.77V283.40Z" fill="#4f5052" filter="url(#sb)"/>
<path d="M266.69 92.80V92.43H267.31V92.33H267.93V92.40H268.55V92.49H269.17V91.65H269.79V92.01H270.41V92.23H271.03V91.11H271.65V91.46H272.27V92.10H272.89V92.28H273.51V92.30H274.13V91.86H274.75V91.94H275.37V91.77H275.99V90.55H276.61V90.13H277.23V90.55H277.85V91.92H278.47V91.92H279.09V91.79H279.71V90.93H280.33V91.01H280.95V91.25H281.57V91.32H282.19V91.86H282.81V92.14H283.43V92.34H284.05V92.31H284.67V92.51H285.29V91.39H285.91V91.73H286.53V92.35H287.15V92.52H287.77V92.80Z" fill="#f3b55c" filter="url(#sb)"/>
<path d="M347.69 92.80V92.65H348.31V92.67H348.93V91.95H349.55V92.07H350.17V92.38H350.79V92.11H351.41V91.21H352.03V91.54H352.65V91.81H353.27V91.41H353.89V91.66H354.51V92.34H355.13V92.45H355.75V92.46H356.37V92.45H356.99V92.80Z" fill="#f3b55c" filter="url(#sb)"/>
<rect x="276" y="99.2" width="0.9" height="1.8" fill="#77787b" stroke="none" stroke-width="0"/>
<rect x="277.6" y="99.2" width="0.9" height="1.0" fill="#77787b" stroke="none" stroke-width="0"/>
<rect x="281" y="99.2" width="0.9" height="0.8" fill="#77787b" stroke="none" stroke-width="0"/>
<rect x="284.6" y="99.2" width="0.9" height="0.8" fill="#77787b" stroke="none" stroke-width="0"/>
<rect x="143.7" y="393.5" width="213.10000000000002" height="10.6" fill="#454b53" stroke="none" stroke-width="0"/>
<rect x="361.5" y="393.5" width="21.100000000000023" height="10.6" fill="#454b53" stroke="none" stroke-width="0"/>
<rect x="432.1" y="393.5" width="62.799999999999955" height="10.6" fill="#454b53" stroke="none" stroke-width="0"/>
<path d="M207.0 395.9L200.60000000000002 398.8L207.0 401.7" fill="none" stroke="#f4f4f4" stroke-width="1.1"/>
<path d="M299.9 395.9L293.5 398.8L299.9 401.7" fill="none" stroke="#f4f4f4" stroke-width="1.1"/>
<path d="M375.2 395.9L368.8 398.8L375.2 401.7" fill="none" stroke="#f4f4f4" stroke-width="1.1"/>
<path d="M459.5 395.9L465.9 398.8L459.5 401.7" fill="none" stroke="#f4f4f4" stroke-width="1.1"/>
<text x="201.5" y="428.8" font-size="24.1" text-anchor="start" font-weight="normal" font-style="italic" fill="#111">tlh1</text>
<text x="286" y="428.8" font-size="24.1" text-anchor="start" font-weight="normal" font-style="italic" fill="#111">SPAC212.10</text>
<text x="441" y="428.8" font-size="24.1" text-anchor="start" font-weight="normal" font-style="italic" fill="#111">SPAC212.09c</text>
<text transform="translate(0.5 494.8) scale(0.95 1)" font-size="35" font-weight="bold" fill="#000" stroke="#fff" stroke-width="0.6">B</text>
<text x="24" y="562.8" font-size="31.1" text-anchor="start" font-weight="normal" font-style="normal" fill="#111">wild type</text>
<text x="252.6" y="562.8" font-size="31.1" text-anchor="start" font-weight="normal" font-style="italic" fill="#111">caf1Δ</text>
<text x="459.7" y="562.8" font-size="31.1" text-anchor="start" font-weight="normal" font-style="italic" fill="#111">ccr4Δ</text>
<path d="M76.8 680.8L76.80 605.80A75 75 0 0 1 90.47 607.06Z" fill="#c7c8ca" stroke="#c7c8ca" stroke-width="0.3"/>
<path d="M76.8 680.8L90.47 607.06A75 75 0 0 1 95.71 608.22Z" fill="#939598" stroke="#939598" stroke-width="0.3"/>
<path d="M76.8 680.8L95.71 608.22A75 75 0 0 1 97.47 608.71Z" fill="#5e6267" stroke="#5e6267" stroke-width="0.3"/>
<path d="M76.8 680.8L97.47 608.71A75 75 0 0 1 147.41 655.52Z" fill="#454b53" stroke="#454b53" stroke-width="0.3"/>
<path d="M76.8 680.8L147.41 655.52A75 75 0 0 1 147.71 656.38Z" fill="#f1f2f2" stroke="#f1f2f2" stroke-width="0.3"/>
<path d="M76.8 680.8L147.71 656.38A75 75 0 0 1 148.60 659.12Z" fill="#fa9619" stroke="#fa9619" stroke-width="0.3"/>
<path d="M76.8 680.8L148.60 659.12A75 75 0 1 1 76.80 605.80Z" fill="#fde4b5" stroke="#fde4b5" stroke-width="0.3"/>
<path d="M293.7 680.3L293.70 605.30A75 75 0 0 1 308.40 606.75Z" fill="#c7c8ca" stroke="#c7c8ca" stroke-width="0.3"/>
<path d="M293.7 680.3L308.40 606.75A75 75 0 0 1 312.48 607.69Z" fill="#939598" stroke="#939598" stroke-width="0.3"/>
<path d="M293.7 680.3L312.48 607.69A75 75 0 0 1 314.88 608.35Z" fill="#5e6267" stroke="#5e6267" stroke-width="0.3"/>
<path d="M293.7 680.3L314.88 608.35A75 75 0 0 1 329.26 614.26Z" fill="#454b53" stroke="#454b53" stroke-width="0.3"/>
<path d="M293.7 680.3L329.26 614.26A75 75 0 0 1 343.88 624.56Z" fill="#f1f2f2" stroke="#f1f2f2" stroke-width="0.3"/>
<path d="M293.7 680.3L343.88 624.56A75 75 0 0 1 327.40 747.30Z" fill="#fa9619" stroke="#fa9619" stroke-width="0.3"/>
<path d="M293.7 680.3L327.40 747.30A75 75 0 1 1 293.70 605.30Z" fill="#fde4b5" stroke="#fde4b5" stroke-width="0.3"/>
<path d="M500.6 680.3L500.60 605.30A75 75 0 0 1 510.13 605.91Z" fill="#c7c8ca" stroke="#c7c8ca" stroke-width="0.3"/>
<path d="M500.6 680.3L510.13 605.91A75 75 0 0 1 517.47 607.22Z" fill="#939598" stroke="#939598" stroke-width="0.3"/>
<path d="M500.6 680.3L517.47 607.22A75 75 0 0 1 520.26 607.92Z" fill="#5e6267" stroke="#5e6267" stroke-width="0.3"/>
<path d="M500.6 680.3L520.26 607.92A75 75 0 0 1 575.46 675.72Z" fill="#454b53" stroke="#454b53" stroke-width="0.3"/>
<path d="M500.6 680.3L575.46 675.72A75 75 0 0 1 575.60 679.91Z" fill="#f1f2f2" stroke="#f1f2f2" stroke-width="0.3"/>
<path d="M500.6 680.3L575.60 679.91A75 75 0 0 1 571.51 704.72Z" fill="#fa9619" stroke="#fa9619" stroke-width="0.3"/>
<path d="M500.6 680.3L571.51 704.72A75 75 0 1 1 500.60 605.30Z" fill="#fde4b5" stroke="#fde4b5" stroke-width="0.3"/>
<text x="47" y="723.3" font-size="22" text-anchor="start" font-weight="bold" font-style="normal" fill="#111">79%</text>
<text x="152.3" y="663.3" font-size="22" text-anchor="start" font-weight="bold" font-style="normal" fill="#111">0.6%</text>
<text x="315" y="693.8" font-size="22" text-anchor="start" font-weight="bold" font-style="normal" fill="#111">31%</text>
<text x="250.5" y="723.3" font-size="22" text-anchor="start" font-weight="bold" font-style="normal" fill="#111">57%</text>
<text x="466.6" y="723.3" font-size="22" text-anchor="start" font-weight="bold" font-style="normal" fill="#111">70%</text>
<text x="577.8" y="699.6" font-size="22" text-anchor="start" font-weight="bold" font-style="normal" fill="#111">5%</text>
<rect x="15.2" y="818.8" width="15.8" height="16.2" fill="#fde4b5" stroke="none" stroke-width="0"/>
<text x="37.6" y="835.0" font-size="24.2" text-anchor="start" font-weight="normal" font-style="normal" fill="#111">centromeric repeats</text>
<rect x="282.3" y="818.8" width="15.8" height="16.2" fill="#fa9619" stroke="none" stroke-width="0"/>
<text x="304.4" y="835.0" font-size="24.2" text-anchor="start" font-weight="normal" font-style="italic" fill="#111">tlh</text>
<rect x="365.0" y="818.8" width="15.8" height="16.2" fill="#f1f2f2" stroke="none" stroke-width="0"/>
<text x="387.6" y="835.0" font-size="24.2" text-anchor="start" font-weight="normal" font-style="normal" fill="#111">mRNA</text>
<rect x="496.0" y="818.8" width="15.8" height="16.2" fill="#454b53" stroke="none" stroke-width="0"/>
<text x="518.8" y="835.0" font-size="24.2" text-anchor="start" font-weight="normal" font-style="normal" fill="#111">rRNA</text>
<rect x="15.2" y="862.9" width="15.8" height="16.2" fill="#5e6267" stroke="none" stroke-width="0"/>
<text x="37.4" y="878.2" font-size="24.2" text-anchor="start" font-weight="normal" font-style="normal" fill="#111">tRNA</text>
<rect x="116.6" y="862.9" width="15.8" height="16.2" fill="#939598" stroke="none" stroke-width="0"/>
<text x="138.2" y="878.2" font-size="24.2" text-anchor="start" font-weight="normal" font-style="normal" fill="#111">miscellaneous features</text>
<rect x="413.5" y="862.9" width="15.8" height="16.2" fill="#c7c8ca" stroke="none" stroke-width="0"/>
<text x="435.8" y="878.2" font-size="24.2" text-anchor="start" font-weight="normal" font-style="normal" fill="#111">no annotation</text>
<text transform="translate(644.4 25.65) scale(0.95 1)" font-size="35" font-weight="bold" fill="#000" stroke="#fff" stroke-width="0.6">C</text>
<line x1="756.8" y1="351.6" x2="1196.7" y2="351.6" stroke="#111" stroke-width="1.6"/>
<line x1="756.8" y1="271.6" x2="1196.7" y2="271.6" stroke="#111" stroke-width="1.6"/>
<text x="754.8" y="279.90000000000003" font-size="24" text-anchor="end" font-weight="normal" font-style="normal" fill="#111">20</text>
<line x1="756.8" y1="191.60000000000002" x2="1196.7" y2="191.60000000000002" stroke="#111" stroke-width="1.6"/>
<text x="754.8" y="199.90000000000003" font-size="24" text-anchor="end" font-weight="normal" font-style="normal" fill="#111">40</text>
<line x1="756.8" y1="111.60000000000002" x2="1196.7" y2="111.60000000000002" stroke="#111" stroke-width="1.6"/>
<text x="754.8" y="119.90000000000002" font-size="24" text-anchor="end" font-weight="normal" font-style="normal" fill="#111">60</text>
<line x1="756.8" y1="31.600000000000023" x2="1196.7" y2="31.600000000000023" stroke="#111" stroke-width="1.6"/>
<text x="754.8" y="39.90000000000002" font-size="24" text-anchor="end" font-weight="normal" font-style="normal" fill="#111">80</text>
<line x1="766.0" y1="31.15" x2="766.0" y2="352.35" stroke="#111" stroke-width="1.7"/>
<line x1="756.8" y1="351.6" x2="1196.7" y2="351.6" stroke="#111" stroke-width="1.6"/>
<line x1="1196.0" y1="31.15" x2="1196.0" y2="352.35" stroke="#111" stroke-width="1.5"/>
<rect x="784.225" y="347.6" width="24.4" height="4.199999999999989" fill="#fa9619" stroke="none" stroke-width="0"/>
<rect x="845.675" y="205.60000000000002" width="24.4" height="146.2" fill="#fa9619" stroke="none" stroke-width="0"/>
<rect x="907.125" y="322.8" width="24.4" height="29.0" fill="#fa9619" stroke="none" stroke-width="0"/>
<rect x="968.575" y="335.8" width="24.4" height="16.0" fill="#fa9619" stroke="none" stroke-width="0"/>
<rect x="1030.025" y="346.0" width="24.4" height="5.800000000000011" fill="#fa9619" stroke="none" stroke-width="0"/>
<rect x="1091.475" y="234.00000000000003" width="24.4" height="117.79999999999998" fill="#fa9619" stroke="none" stroke-width="0"/>
<rect x="1152.925" y="147.60000000000002" width="24.4" height="204.2" fill="#fa9619" stroke="none" stroke-width="0"/>
<line x1="796.725" y1="347.40000000000003" x2="796.725" y2="347.8" stroke="#111" stroke-width="1.5"/>
<line x1="790.9250000000001" y1="347.40000000000003" x2="802.525" y2="347.40000000000003" stroke="#111" stroke-width="1.5"/>
<line x1="790.9250000000001" y1="347.8" x2="802.525" y2="347.8" stroke="#111" stroke-width="1.5"/>
<line x1="858.175" y1="184.8" x2="858.175" y2="226.00000000000003" stroke="#111" stroke-width="1.5"/>
<line x1="852.375" y1="184.8" x2="863.9749999999999" y2="184.8" stroke="#111" stroke-width="1.5"/>
<line x1="852.375" y1="226.00000000000003" x2="863.9749999999999" y2="226.00000000000003" stroke="#111" stroke-width="1.5"/>
<line x1="919.625" y1="317.8" x2="919.625" y2="327.20000000000005" stroke="#111" stroke-width="1.5"/>
<line x1="913.825" y1="317.8" x2="925.425" y2="317.8" stroke="#111" stroke-width="1.5"/>
<line x1="913.825" y1="327.20000000000005" x2="925.425" y2="327.20000000000005" stroke="#111" stroke-width="1.5"/>
<line x1="981.075" y1="332.0" x2="981.075" y2="339.20000000000005" stroke="#111" stroke-width="1.5"/>
<line x1="975.2750000000001" y1="332.0" x2="986.875" y2="332.0" stroke="#111" stroke-width="1.5"/>
<line x1="975.2750000000001" y1="339.20000000000005" x2="986.875" y2="339.20000000000005" stroke="#111" stroke-width="1.5"/>
<line x1="1042.525" y1="344.6" x2="1042.525" y2="347.8" stroke="#111" stroke-width="1.5"/>
<line x1="1036.7250000000001" y1="344.6" x2="1048.325" y2="344.6" stroke="#111" stroke-width="1.5"/>
<line x1="1036.7250000000001" y1="347.8" x2="1048.325" y2="347.8" stroke="#111" stroke-width="1.5"/>
<line x1="1103.975" y1="218.00000000000003" x2="1103.975" y2="248.40000000000003" stroke="#111" stroke-width="1.5"/>
<line x1="1098.175" y1="218.00000000000003" x2="1109.7749999999999" y2="218.00000000000003" stroke="#111" stroke-width="1.5"/>
<line x1="1098.175" y1="248.40000000000003" x2="1109.7749999999999" y2="248.40000000000003" stroke="#111" stroke-width="1.5"/>
<line x1="1165.425" y1="110.00000000000003" x2="1165.425" y2="184.8" stroke="#111" stroke-width="1.5"/>
<line x1="1159.625" y1="110.00000000000003" x2="1171.225" y2="110.00000000000003" stroke="#111" stroke-width="1.5"/>
<line x1="1159.625" y1="184.8" x2="1171.225" y2="184.8" stroke="#111" stroke-width="1.5"/>
<line x1="766.0" y1="351.6" x2="766.0" y2="359.90000000000003" stroke="#111" stroke-width="1.5"/>
<line x1="827.45" y1="351.6" x2="827.45" y2="359.90000000000003" stroke="#111" stroke-width="1.5"/>
<line x1="888.9" y1="351.6" x2="888.9" y2="359.90000000000003" stroke="#111" stroke-width="1.5"/>
<line x1="950.35" y1="351.6" x2="950.35" y2="359.90000000000003" stroke="#111" stroke-width="1.5"/>
<line x1="1011.8" y1="351.6" x2="1011.8" y2="359.90000000000003" stroke="#111" stroke-width="1.5"/>
<line x1="1073.25" y1="351.6" x2="1073.25" y2="359.90000000000003" stroke="#111" stroke-width="1.5"/>
<line x1="1134.7" y1="351.6" x2="1134.7" y2="359.90000000000003" stroke="#111" stroke-width="1.5"/>
<line x1="1196.15" y1="351.6" x2="1196.15" y2="359.90000000000003" stroke="#111" stroke-width="1.5"/>
<text x="805.725" y="374.6" font-size="24.1" text-anchor="end" font-weight="normal" font-style="normal" fill="#111" transform="rotate(-52 805.725 374.6)">wild type</text>
<text x="866.4749999999999" y="374.6" font-size="24.1" text-anchor="end" font-weight="normal" font-style="italic" fill="#111" transform="rotate(-52 866.4749999999999 374.6)">clr4Δ</text>
<text x="927.925" y="374.6" font-size="24.1" text-anchor="end" font-weight="normal" font-style="italic" fill="#111" transform="rotate(-52 927.925 374.6)">caf1Δ</text>
<text x="989.375" y="374.6" font-size="24.1" text-anchor="end" font-weight="normal" font-style="italic" fill="#111" transform="rotate(-52 989.375 374.6)">dcr1Δ</text>
<text x="1049.825" y="374.6" font-size="24.1" text-anchor="end" font-weight="normal" font-style="italic" fill="#111" transform="rotate(-52 1049.825 374.6)">ago1Δ</text>
<text x="1112.7749999999999" y="374.6" font-size="24.1" text-anchor="end" font-weight="normal" font-style="italic" fill="#111" transform="rotate(-52 1112.7749999999999 374.6)">caf1Δdcr1Δ</text>
<text x="1175.225" y="374.6" font-size="24.1" text-anchor="end" font-weight="normal" font-style="italic" fill="#111" transform="rotate(-52 1175.225 374.6)">caf1Δago1Δ</text>
<text x="709.3" y="187.4" font-size="24.1" text-anchor="middle" font-weight="normal" font-style="normal" fill="#111" transform="rotate(-90 709.3 187.4)">relative level of <tspan font-style="italic">tlh</tspan> RNA / <tspan font-style="italic">tdh1</tspan></text>
<text transform="translate(649.6 494.8) scale(0.95 1)" font-size="35" font-weight="bold" fill="#000" stroke="#fff" stroke-width="0.6">D</text>
<line x1="756.8" y1="835.2" x2="1196.7" y2="835.2" stroke="#111" stroke-width="1.6"/>
<line x1="756.8" y1="755.2" x2="1196.7" y2="755.2" stroke="#111" stroke-width="1.6"/>
<text x="754.8" y="763.5" font-size="24" text-anchor="end" font-weight="normal" font-style="normal" fill="#111">200</text>
<line x1="756.8" y1="675.2" x2="1196.7" y2="675.2" stroke="#111" stroke-width="1.6"/>
<text x="754.8" y="683.5" font-size="24" text-anchor="end" font-weight="normal" font-style="normal" fill="#111">400</text>
<line x1="756.8" y1="595.2" x2="1196.7" y2="595.2" stroke="#111" stroke-width="1.6"/>
<text x="754.8" y="603.5" font-size="24" text-anchor="end" font-weight="normal" font-style="normal" fill="#111">600</text>
<line x1="756.8" y1="515.2" x2="1196.7" y2="515.2" stroke="#111" stroke-width="1.6"/>
<text x="754.8" y="523.5" font-size="24" text-anchor="end" font-weight="normal" font-style="normal" fill="#111">800</text>
<line x1="766.0" y1="514.15" x2="766.0" y2="835.95" stroke="#111" stroke-width="1.7"/>
<line x1="756.8" y1="835.2" x2="1196.7" y2="835.2" stroke="#111" stroke-width="1.6"/>
<line x1="1196.0" y1="514.15" x2="1196.0" y2="835.95" stroke="#111" stroke-width="1.5"/>
<rect x="784.225" y="600.8000000000001" width="24.4" height="234.60000000000002" fill="#999999" stroke="none" stroke-width="0"/>
<rect x="845.675" y="834.4000000000001" width="24.4" height="1.0" fill="#999999" stroke="none" stroke-width="0"/>
<rect x="907.125" y="766.0" width="24.4" height="69.40000000000009" fill="#999999" stroke="none" stroke-width="0"/>
<rect x="968.575" y="717.0" width="24.4" height="118.40000000000009" fill="#999999" stroke="none" stroke-width="0"/>
<rect x="1030.025" y="773.4000000000001" width="24.4" height="62.0" fill="#999999" stroke="none" stroke-width="0"/>
<rect x="1091.475" y="833.2" width="24.4" height="2.2000000000000455" fill="#999999" stroke="none" stroke-width="0"/>
<rect x="1152.925" y="830.2" width="24.4" height="5.2000000000000455" fill="#999999" stroke="none" stroke-width="0"/>
<line x1="796.725" y1="536.4000000000001" x2="796.725" y2="664.8000000000001" stroke="#111" stroke-width="1.5"/>
<line x1="790.9250000000001" y1="536.4000000000001" x2="802.525" y2="536.4000000000001" stroke="#111" stroke-width="1.5"/>
<line x1="790.9250000000001" y1="664.8000000000001" x2="802.525" y2="664.8000000000001" stroke="#111" stroke-width="1.5"/>
<line x1="858.175" y1="834.2" x2="858.175" y2="834.6" stroke="#111" stroke-width="1.5"/>
<line x1="852.375" y1="834.2" x2="863.9749999999999" y2="834.2" stroke="#111" stroke-width="1.5"/>
<line x1="852.375" y1="834.6" x2="863.9749999999999" y2="834.6" stroke="#111" stroke-width="1.5"/>
<line x1="919.625" y1="738.0" x2="919.625" y2="794.4000000000001" stroke="#111" stroke-width="1.5"/>
<line x1="913.825" y1="738.0" x2="925.425" y2="738.0" stroke="#111" stroke-width="1.5"/>
<line x1="913.825" y1="794.4000000000001" x2="925.425" y2="794.4000000000001" stroke="#111" stroke-width="1.5"/>
<line x1="981.075" y1="696.0" x2="981.075" y2="738.0" stroke="#111" stroke-width="1.5"/>
<line x1="975.2750000000001" y1="696.0" x2="986.875" y2="696.0" stroke="#111" stroke-width="1.5"/>
<line x1="975.2750000000001" y1="738.0" x2="986.875" y2="738.0" stroke="#111" stroke-width="1.5"/>
<line x1="1042.525" y1="758.9200000000001" x2="1042.525" y2="788.4000000000001" stroke="#111" stroke-width="1.5"/>
<line x1="1036.7250000000001" y1="758.9200000000001" x2="1048.325" y2="758.9200000000001" stroke="#111" stroke-width="1.5"/>
<line x1="1036.7250000000001" y1="788.4000000000001" x2="1048.325" y2="788.4000000000001" stroke="#111" stroke-width="1.5"/>
<line x1="1103.975" y1="831.6" x2="1103.975" y2="834.0" stroke="#111" stroke-width="1.5"/>
<line x1="1098.175" y1="831.6" x2="1109.7749999999999" y2="831.6" stroke="#111" stroke-width="1.5"/>
<line x1="1098.175" y1="834.0" x2="1109.7749999999999" y2="834.0" stroke="#111" stroke-width="1.5"/>
<line x1="1165.425" y1="826.96" x2="1165.425" y2="832.5200000000001" stroke="#111" stroke-width="1.5"/>
<line x1="1159.625" y1="826.96" x2="1171.225" y2="826.96" stroke="#111" stroke-width="1.5"/>
<line x1="1159.625" y1="832.5200000000001" x2="1171.225" y2="832.5200000000001" stroke="#111" stroke-width="1.5"/>
<line x1="766.0" y1="835.2" x2="766.0" y2="843.5" stroke="#e2e2e2" stroke-width="1.5"/>
<line x1="827.45" y1="835.2" x2="827.45" y2="843.5" stroke="#e2e2e2" stroke-width="1.5"/>
<line x1="888.9" y1="835.2" x2="888.9" y2="843.5" stroke="#e2e2e2" stroke-width="1.5"/>
<line x1="950.35" y1="835.2" x2="950.35" y2="843.5" stroke="#e2e2e2" stroke-width="1.5"/>
<line x1="1011.8" y1="835.2" x2="1011.8" y2="843.5" stroke="#e2e2e2" stroke-width="1.5"/>
<line x1="1073.25" y1="835.2" x2="1073.25" y2="843.5" stroke="#e2e2e2" stroke-width="1.5"/>
<line x1="1134.7" y1="835.2" x2="1134.7" y2="843.5" stroke="#e2e2e2" stroke-width="1.5"/>
<line x1="1196.15" y1="835.2" x2="1196.15" y2="843.5" stroke="#e2e2e2" stroke-width="1.5"/>
<text x="805.725" y="858.7" font-size="24.1" text-anchor="end" font-weight="normal" font-style="normal" fill="#111" transform="rotate(-52 805.725 858.7)">wild type</text>
<text x="864.9749999999999" y="858.7" font-size="24.1" text-anchor="end" font-weight="normal" font-style="italic" fill="#111" transform="rotate(-52 864.9749999999999 858.7)">clr4Δ</text>
<text x="926.425" y="858.7" font-size="24.1" text-anchor="end" font-weight="normal" font-style="italic" fill="#111" transform="rotate(-52 926.425 858.7)">caf1Δ</text>
<text x="987.875" y="858.7" font-size="24.1" text-anchor="end" font-weight="normal" font-style="italic" fill="#111" transform="rotate(-52 987.875 858.7)">dcr1Δ</text>
<text x="1049.325" y="858.7" font-size="24.1" text-anchor="end" font-weight="normal" font-style="italic" fill="#111" transform="rotate(-52 1049.325 858.7)">ago1Δ</text>
<text x="1114.7749999999999" y="858.7" font-size="24.1" text-anchor="end" font-weight="normal" font-style="italic" fill="#111" transform="rotate(-52 1114.7749999999999 858.7)">caf1Δdcr1Δ</text>
<text x="1176.225" y="858.7" font-size="24.1" text-anchor="end" font-weight="normal" font-style="italic" fill="#111" transform="rotate(-52 1176.225 858.7)">caf1Δago1Δ</text>
<text x="675" y="669.2" font-size="24.1" text-anchor="middle" font-weight="normal" font-style="normal" fill="#111" transform="rotate(-90 675 669.2)">H3K9me2 ChIP</text>
<text x="702.5" y="665.5" font-size="24.1" text-anchor="middle" font-weight="normal" font-style="normal" fill="#111" transform="rotate(-90 702.5 665.5)">enrichment at <tspan font-style="italic">tlh</tspan> over <tspan font-style="italic">clr4Δ</tspan></text>
<text transform="translate(0.5 969.8) scale(0.95 1)" font-size="35" font-weight="bold" fill="#000" stroke="#fff" stroke-width="0.6">E</text>
<text x="42" y="1002.0" font-size="24.1" text-anchor="start" font-weight="normal" font-style="normal" fill="#111">Chr2</text>
<text x="107.7" y="1002.0" font-size="24.1" text-anchor="start" font-weight="normal" font-style="normal" fill="#111">0 kb</text>
<text x="246.8" y="1002.0" font-size="24.1" text-anchor="start" font-weight="normal" font-style="normal" fill="#111">2,000 kb</text>
<text x="417.9" y="1002.0" font-size="24.1" text-anchor="start" font-weight="normal" font-style="normal" fill="#111">4,000 kb</text>
<line x1="119.9" y1="1021.5" x2="500" y2="1021.5" stroke="#111" stroke-width="1.4"/>
<line x1="120.6" y1="1009.5" x2="120.6" y2="1021.5" stroke="#111" stroke-width="1.4"/>
<line x1="203.7" y1="1009.5" x2="203.7" y2="1021.5" stroke="#111" stroke-width="1.4"/>
<line x1="286.4" y1="1009.5" x2="286.4" y2="1021.5" stroke="#111" stroke-width="1.4"/>
<line x1="369.8" y1="1009.5" x2="369.8" y2="1021.5" stroke="#111" stroke-width="1.4"/>
<line x1="453.7" y1="1009.5" x2="453.7" y2="1021.5" stroke="#111" stroke-width="1.4"/>
<rect x="118.6" y="1028.2" width="382.0" height="214.79999999999995" fill="none" stroke="#111" stroke-width="1.7"/>
<line x1="119.5" y1="1132.2" x2="500" y2="1132.2" stroke="#bdbdbd" stroke-width="1"/>
<line x1="119.5" y1="1235" x2="500" y2="1235" stroke="#cfcfcf" stroke-width="1.2"/>
<path d="M253.9 1132V1064.5L254.8 1063.8L255.6 1132ZM256.1 1132L256.4 1064L257.3 1063.8L258 1132Z" fill="#454b53"/>
<path d="M296.2 1132V1112L297.4 1111L298.2 1054.7L299 1100L299.8 1132Z" fill="#454b53"/>
<path d="M119.6 1132V1125L120.6 1124.5L121.4 1132Z" fill="#454b53"/>
<path d="M316 1132L316.4 1129.5L316.8 1132Z" fill="#454b53"/>
<path d="M496.8 1132L497.6 1124L498.6 1100L499.3 1087.7L500 1132Z" fill="#454b53"/>
<path d="M499 1235L499.5 1231.5L500 1235Z" fill="#454b53"/>
<text x="112.6" y="1093.7" font-size="24.1" text-anchor="end" font-weight="normal" font-style="normal" fill="#111">wild type</text>
<text x="111.5" y="1179.4" font-size="24.1" text-anchor="end" font-weight="normal" font-style="italic" fill="#111">caf1Δ</text>
<text x="111.7" y="1206.0" font-size="24.1" text-anchor="end" font-weight="normal" font-style="italic" fill="#111">dcr1Δ</text>
<text x="516.4" y="1046.6" font-size="17.7" text-anchor="start" font-weight="normal" font-style="normal" fill="#111">400</text>
<text x="516.4" y="1091.8" font-size="17.7" text-anchor="start" font-weight="normal" font-style="normal" fill="#111">200</text>
<text x="516.4" y="1134.4" font-size="17.7" text-anchor="start" font-weight="normal" font-style="normal" fill="#111">0</text>
<text x="516.4" y="1150.0" font-size="17.7" text-anchor="start" font-weight="normal" font-style="normal" fill="#111">400</text>
<text x="516.4" y="1196.3" font-size="17.7" text-anchor="start" font-weight="normal" font-style="normal" fill="#111">200</text>
<text x="516.4" y="1237.0" font-size="17.7" text-anchor="start" font-weight="normal" font-style="normal" fill="#111">0</text>
<path d="M513 1040H508.7V1131H513M508.7 1085.5H513" fill="none" stroke="#e6e6e6" stroke-width="1"/>
<path d="M513 1142H508.7V1234H513M508.7 1188.5H513" fill="none" stroke="#e6e6e6" stroke-width="1"/>
<text x="575.1" y="1127" font-size="24.1" text-anchor="middle" font-weight="normal" font-style="normal" fill="#111" transform="rotate(-90 575.1 1127)">H3K9me2 ChIP</text>
<text x="44.5" y="1277.5" font-size="24.1" text-anchor="start" font-weight="normal" font-style="normal" fill="#111">subtelomere</text>
<text x="232" y="1277.5" font-size="24.1" text-anchor="start" font-weight="normal" font-style="normal" fill="#111">cen</text>
<text x="289.5" y="1277.5" font-size="24.1" text-anchor="start" font-weight="normal" font-style="italic" fill="#111">mat</text>
<text x="438" y="1277.5" font-size="24.1" text-anchor="start" font-weight="normal" font-style="normal" fill="#111">subtelomere</text>
</svg>
</body></html>
